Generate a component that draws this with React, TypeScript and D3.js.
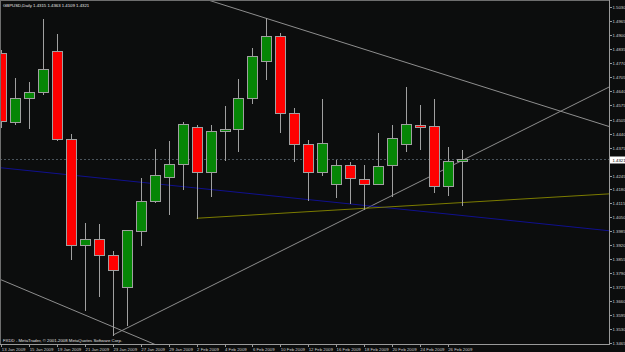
import React from 'react';
import * as d3 from 'd3';

// ---- data ----
const dates = [
  '13 Jan 2009', '14 Jan 2009', '15 Jan 2009', '16 Jan 2009', '19 Jan 2009', '20 Jan 2009',
  '21 Jan 2009', '22 Jan 2009', '23 Jan 2009', '26 Jan 2009', '27 Jan 2009', '28 Jan 2009',
  '29 Jan 2009', '30 Jan 2009', '2 Feb 2009', '3 Feb 2009', '4 Feb 2009', '5 Feb 2009',
  '6 Feb 2009', '9 Feb 2009', '10 Feb 2009', '11 Feb 2009', '12 Feb 2009', '13 Feb 2009',
  '16 Feb 2009', '17 Feb 2009', '18 Feb 2009', '19 Feb 2009', '20 Feb 2009', '23 Feb 2009',
  '24 Feb 2009', '25 Feb 2009', '26 Feb 2009', '27 Feb 2009',
];
const opens = [
  1.4817, 1.4493, 1.4605, 1.4633, 1.4826, 1.4417, 1.3923, 1.3949, 1.3873, 1.3724, 1.3987, 1.4125,
  1.4238, 1.4297, 1.4470, 1.4260, 1.4451, 1.4460, 1.4605, 1.4780, 1.4894, 1.4536, 1.4390, 1.4263,
  1.4206, 1.4293, 1.4230, 1.4206, 1.4293, 1.4393, 1.4479, 1.4474, 1.4195, 1.4315,
];
const highs = [
  1.4830, 1.4701, 1.4679, 1.4974, 1.4904, 1.4437, 1.4024, 1.4021, 1.3893, 1.3992, 1.4235, 1.4369,
  1.4406, 1.4494, 1.4479, 1.4479, 1.4570, 1.4696, 1.4838, 1.4977, 1.4909, 1.4561, 1.4409, 1.4600,
  1.4317, 1.4307, 1.4294, 1.4442, 1.4480, 1.4656, 1.4574, 1.4601, 1.4379, 1.4363,
];
const lows = [
  1.4471, 1.4485, 1.4468, 1.4623, 1.4410, 1.3858, 1.3619, 1.3685, 1.3502, 1.3549, 1.3923, 1.4120,
  1.4067, 1.4184, 1.4046, 1.4148, 1.4317, 1.4361, 1.4584, 1.4695, 1.4449, 1.4313, 1.4131, 1.4249,
  1.4146, 1.4118, 1.4088, 1.4206, 1.4150, 1.4361, 1.4370, 1.4170, 1.4156, 1.4109,
];
const closes = [
  1.4498, 1.4605, 1.4633, 1.4741, 1.4414, 1.3923, 1.3951, 1.3873, 1.3804, 1.3990, 1.4125, 1.4246,
  1.4297, 1.4486, 1.4260, 1.4454, 1.4462, 1.4605, 1.4800, 1.4894, 1.4536, 1.4390, 1.4260, 1.4395,
  1.4293, 1.4234, 1.4206, 1.4288, 1.4421, 1.4484, 1.4472, 1.4195, 1.4311, 1.4321,
];
const priceTicks = [
  1.5030, 1.4965, 1.4900, 1.4835, 1.4770, 1.4705, 1.4640, 1.4575, 1.4505, 1.4440, 1.4375,
  1.4245, 1.4180, 1.4115, 1.4050, 1.3985, 1.3920, 1.3855, 1.3790, 1.3725, 1.3660, 1.3595,
  1.3530, 1.3465,
];
// trendlines: anchors as [bar index, price]; ray = extend to the right only
const lineUpper = { a: [19, 1.4977], b: [33, 1.4690], ray: false };
const lineLowerLeft = { a: [0, 1.3759], b: [10, 1.3486], ray: false };
const lineRising = { a: [8, 1.3502], b: [33, 1.4314], ray: true };
const lineBlue = { a: [0, 1.4281], b: [33, 1.4059], ray: false };
const lineYellow = { a: [14, 1.4046], b: [33, 1.4119], ray: true };

const symbolText = 'GBPUSD,Daily  1.4315 1.4363 1.4109 1.4321';
const copyrightText = 'FXDD - MetaTrader, © 2001-2008 MetaQuotes Software Corp.';

// ---- layout ----
const W = 625;
const H = 352;
const PR = 609; // plot right edge
const PB = 344; // plot bottom edge
const FONT = '"Liberation Sans", Arial, sans-serif';
const FS = 4.3;

const x = d3
  .scalePoint<string>()
  .domain(dates)
  .range([1.3, 1.3 + 13.95 * (dates.length - 1)]);
const y = d3.scaleLinear().domain([1.3465, 1.5030]).range([343, 7]);
const xi = (i: number) => x(dates[0])! + i * x.step();

function lineEnds(l: { a: number[]; b: number[]; ray: boolean }) {
  const x1 = xi(l.a[0]);
  const y1 = y(l.a[1]);
  const x2 = xi(l.b[0]);
  const y2 = y(l.b[1]);
  const s = (y2 - y1) / (x2 - x1);
  const xs = l.ray ? x1 : -50;
  const xe = PR + 50;
  return { x1: xs, y1: y1 + (xs - x1) * s, x2: xe, y2: y1 + (xe - x1) * s };
}

export default function App() {
  const lastClose = closes[closes.length - 1];
  const lines = [
    { l: lineUpper, c: '#8e8e8e' },
    { l: lineLowerLeft, c: '#8e8e8e' },
    { l: lineRising, c: '#8e8e8e' },
    { l: lineBlue, c: '#10108e' },
    { l: lineYellow, c: '#7c7c00' },
  ];
  const yl = Math.round(y(lastClose)) + 0.5;
  return (
    <svg
      width={W}
      height={H}
      style={{ position: 'absolute', left: 0, top: 0, display: 'block' }}
      fontFamily={FONT}
    >
      <defs>
        <clipPath id="plotClip">
          <rect x={1} y={1} width={PR - 1} height={PB - 1} />
        </clipPath>
      </defs>
      <rect x={0} y={0} width={W} height={H} fill="#0c0d0d" />

      <g clipPath="url(#plotClip)">
        {/* current price line */}
        <line x1={0} x2={PR} y1={yl} y2={yl} stroke="#4a545c" strokeDasharray="2,2" />
        {lines.map((d, i) => {
          const e = lineEnds(d.l);
          return <line key={i} {...e} stroke={d.c} strokeWidth={1} />;
        })}
        {dates.map((dt, i) => {
          const px = Math.round(x(dt)!);
          const o = opens[i];
          const c = closes[i];
          const up = c >= o;
          const top = Math.round(y(Math.max(o, c))) + 0.5;
          const bot = Math.round(y(Math.min(o, c))) + 0.5;
          return (
            <g key={dt}>
              <line
                x1={px + 0.5}
                x2={px + 0.5}
                y1={Math.round(y(highs[i]))}
                y2={Math.round(y(lows[i])) + 1}
                stroke="#a0a0a0"
              />
              <rect
                x={px - 4.5}
                y={top}
                width={10}
                height={Math.max(bot - top, 1)}
                fill={up ? '#068606' : '#ff0000'}
                stroke="#a0a0a0"
                strokeWidth={1}
              />
            </g>
          );
        })}
      </g>

      {/* frame */}
      <line x1={0} x2={PR} y1={0.5} y2={0.5} stroke="#6e6e6e" />
      <line x1={0.5} x2={0.5} y1={0} y2={PB} stroke="#6e6e6e" />
      <line x1={0} x2={PR + 1} y1={PB + 0.5} y2={PB + 0.5} stroke="#9a9a9a" />
      <line x1={PR + 0.5} x2={PR + 0.5} y1={0} y2={PB + 1} stroke="#9a9a9a" />

      {/* price axis */}
      {priceTicks.map((p) => {
        const yy = Math.round(y(p)) + 0.5;
        return (
          <g key={p}>
            <line x1={PR + 1} x2={PR + 3} y1={yy} y2={yy} stroke="#9a9a9a" />
            <text x={PR + 3.5} y={yy + 1.5} fontSize={FS} fill="#cfcfcf">
              {p.toFixed(4)}
            </text>
          </g>
        );
      })}
      <rect x={PR + 1} y={yl - 3} width={W - PR - 1} height={7} fill="#ffffff" />
      <text x={PR + 3.5} y={yl + 2} fontSize={FS} fill="#000000">
        {lastClose.toFixed(4)}
      </text>

      {/* time axis */}
      {dates.map((dt, i) =>
        i % 2 === 0 ? (
          <g key={dt}>
            <line
              x1={Math.round(x(dt)!) + 0.5}
              x2={Math.round(x(dt)!) + 0.5}
              y1={PB + 1}
              y2={PB + 3}
              stroke="#9a9a9a"
            />
            <text x={x(dt)! + 0.5} y={350.5} fontSize={FS} fill="#cfcfcf">
              {dt}
            </text>
          </g>
        ) : null
      )}

      <text x={3} y={6.5} fontSize={FS} fill="#e6e6e6">
        {symbolText}
      </text>
      <text x={3} y={342} fontSize={FS} fill="#e0e0e0">
        {copyrightText}
      </text>
    </svg>
  );
}
